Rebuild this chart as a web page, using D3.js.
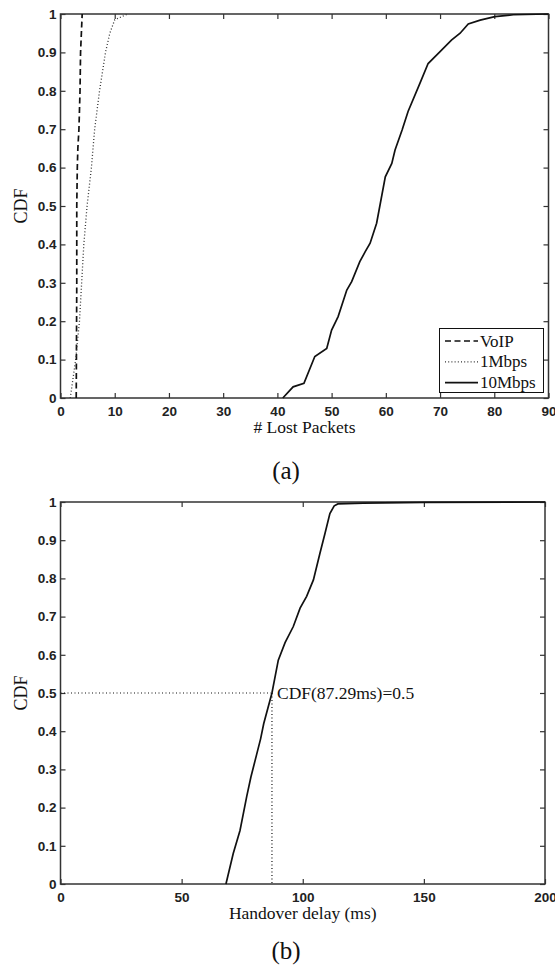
<!DOCTYPE html>
<html><head><meta charset="utf-8">
<script src="https://cdn.jsdelivr.net/npm/d3@7"></script>
<style>body{margin:0;background:#fff}svg{display:block}</style>
</head><body><svg id="c" width="555" height="972"></svg>
<script>
// ---------- data ----------
const xTicksA = [0,10,20,30,40,50,60,70,80,90];
const xTicksB = [0,50,100,150,200];
const yTicks = [0,0.1,0.2,0.3,0.4,0.5,0.6,0.7,0.8,0.9,1];
const yTickLabels = ["0","0.1","0.2","0.3","0.4","0.5","0.6","0.7","0.8","0.9","1"];

const seriesNames = ["VoIP","1Mbps","10Mbps"];
const voipX = [2.9,3.0,3.0,3.1,3.2,3.4,3.6,3.7,3.85,4.0];
const voipY = [0,0.3,0.5,0.6,0.65,0.7,0.8,0.9,0.95,1];
const mbps1X = [1.8,2.8,3.5,3.9,4.3,4.9,5.7,6.3,7.2,8.3,9.1,10.0,12.4];
const mbps1Y = [0,0.1,0.2,0.3,0.4,0.5,0.6,0.7,0.8,0.9,0.95,0.985,1];
const mbps10X = [41.0,42.9,44.9,46.9,49.1,50.0,51.2,52.8,53.7,55.2,56.2,57.1,58.3,59.9,61.1,61.7,63.0,64.1,66.3,67.8,70.0,72.1,73.7,75.2,77.4,80.1,83.5,90];
const mbps10Y = [0,0.029,0.038,0.108,0.129,0.177,0.212,0.281,0.303,0.355,0.381,0.403,0.455,0.576,0.611,0.646,0.698,0.746,0.82,0.871,0.902,0.932,0.95,0.974,0.984,0.993,0.998,1];

const delayX = [68.3,71.3,74.1,76.9,78.6,81.0,82.6,83.9,87.29,89.9,92.7,96.1,98.9,101.6,104.4,107.1,109.2,111.2,113.0,114.5,125,150,200];
const delayY = [0,0.08,0.14,0.23,0.28,0.34,0.38,0.42,0.5,0.586,0.632,0.674,0.722,0.753,0.796,0.866,0.918,0.97,0.99,0.995,0.997,0.999,1];
const annotX = 87.29, annotY = 0.5;
const annotText = "CDF(87.29ms)=0.5";

// ---------- drawing ----------
const svg = d3.select("#c");
svg.append("rect").attr("width",555).attr("height",972).attr("fill","#fff");
const SERIF = "'Liberation Serif','Times New Roman',serif";
const SANS = "'Liberation Sans',Arial,sans-serif";

function panel(o){
  const x = d3.scaleLinear().domain(o.xDomain).range([o.left,o.right]);
  const y = d3.scaleLinear().domain([0,1]).range([o.bottom,o.top]);
  const g = svg.append("g");
  const styleAxis = sel => {
    sel.select(".domain").remove();
    sel.selectAll("line").attr("stroke","#333").attr("stroke-width",1.2);
    sel.selectAll("text").attr("font-family",SANS).attr("font-weight","bold")
      .attr("font-size","13.5px").attr("fill","#222");
  };
  g.append("g").attr("transform",`translate(0,${o.bottom})`)
    .call(d3.axisBottom(x).tickValues(o.xTicks).tickFormat(d3.format("d")).tickSizeInner(-5).tickSizeOuter(0).tickPadding(8))
    .call(styleAxis);
  g.append("g").attr("transform",`translate(0,${o.top})`)
    .call(d3.axisTop(x).tickValues(o.xTicks).tickFormat("").tickSizeInner(-5).tickSizeOuter(0))
    .call(styleAxis);
  g.append("g").attr("transform",`translate(${o.left},0)`)
    .call(d3.axisLeft(y).tickValues(yTicks).tickFormat((d,i)=>yTickLabels[i]).tickSizeInner(-5).tickSizeOuter(0).tickPadding(4))
    .call(styleAxis);
  g.append("g").attr("transform",`translate(${o.right},0)`)
    .call(d3.axisRight(y).tickValues(yTicks).tickFormat("").tickSizeInner(-5).tickSizeOuter(0))
    .call(styleAxis);
  g.append("rect").attr("x",o.left).attr("y",o.top).attr("width",o.right-o.left).attr("height",o.bottom-o.top)
    .attr("fill","none").attr("stroke","#333").attr("stroke-width",1.5);
  // labels
  g.append("text").attr("transform",`translate(27,${(o.top+o.bottom)/2}) rotate(-90)`)
    .attr("text-anchor","middle").attr("font-family",SERIF).attr("font-size","18px").attr("fill","#111").text("CDF");
  g.append("text").attr("x",(o.left+o.right)/2).attr("y",o.bottom+35)
    .attr("text-anchor","middle").attr("font-family",SERIF).attr("font-size","17.5px").attr("fill","#111").text(o.xLabel);
  g.append("text").attr("x",286).attr("y",o.captionY)
    .attr("text-anchor","middle").attr("font-family",SERIF).attr("font-size","25px").attr("fill","#111").text(o.caption);
  return {x,y,g};
}

const line = (sx,sy)=>d3.line().x(d=>sx(d[0])).y(d=>sy(d[1]));
const zip = (a,b)=>a.map((v,i)=>[v,b[i]]);

// Panel (a)
const A = panel({xDomain:[0,90],left:60.5,right:548.5,top:14,bottom:398,xTicks:xTicksA,
  xLabel:"# Lost Packets",caption:"(a)",captionY:479});
const styles = [
  {dash:"6,3.5",w:1.7,c:"#111"},
  {dash:"1,2.2",w:1.3,c:"#333"},
  {dash:null,w:1.7,c:"#111"}
];
const seriesA = [zip(voipX,voipY),zip(mbps1X,mbps1Y),zip(mbps10X,mbps10Y)];
seriesA.forEach((s,i)=>{
  A.g.append("path").attr("d",line(A.x,A.y)(s)).attr("fill","none")
    .attr("stroke",styles[i].c).attr("stroke-width",styles[i].w)
    .attr("stroke-dasharray",styles[i].dash);
});
// legend
const lg = A.g.append("g");
lg.append("rect").attr("x",439.5).attr("y",328.5).attr("width",104).attr("height",64)
  .attr("fill","#fff").attr("stroke","#111").attr("stroke-width",1);
seriesNames.forEach((n,i)=>{
  const yy = 341 + i*20.8;
  lg.append("line").attr("x1",445).attr("x2",478).attr("y1",yy).attr("y2",yy)
    .attr("stroke",styles[i].c).attr("stroke-width",styles[i].w).attr("stroke-dasharray",styles[i].dash);
  lg.append("text").attr("x",480).attr("y",yy+5.5).attr("font-family",SERIF).attr("font-size","17px")
    .attr("fill","#111").text(n);
});

// Panel (b)
const B = panel({xDomain:[0,200],left:60.5,right:545,top:502,bottom:884,xTicks:xTicksB,
  xLabel:"Handover delay (ms)",caption:"(b)",captionY:959});
B.g.append("path").attr("d",line(B.x,B.y)(zip(delayX,delayY))).attr("fill","none")
  .attr("stroke","#111").attr("stroke-width",1.7);
B.g.append("line").attr("x1",B.x(0)).attr("x2",B.x(annotX)).attr("y1",B.y(annotY)).attr("y2",B.y(annotY))
  .attr("stroke","#111").attr("stroke-width",1.2).attr("stroke-dasharray","1,2.5");
B.g.append("line").attr("x1",B.x(annotX)).attr("x2",B.x(annotX)).attr("y1",B.y(annotY)).attr("y2",B.y(0))
  .attr("stroke","#111").attr("stroke-width",1.2).attr("stroke-dasharray","1,2.5");
B.g.append("text").attr("x",B.x(annotX)+5).attr("y",B.y(annotY)+6)
  .attr("font-family",SERIF).attr("font-size","17.5px").attr("fill","#111").text(annotText);
</script></body></html>
